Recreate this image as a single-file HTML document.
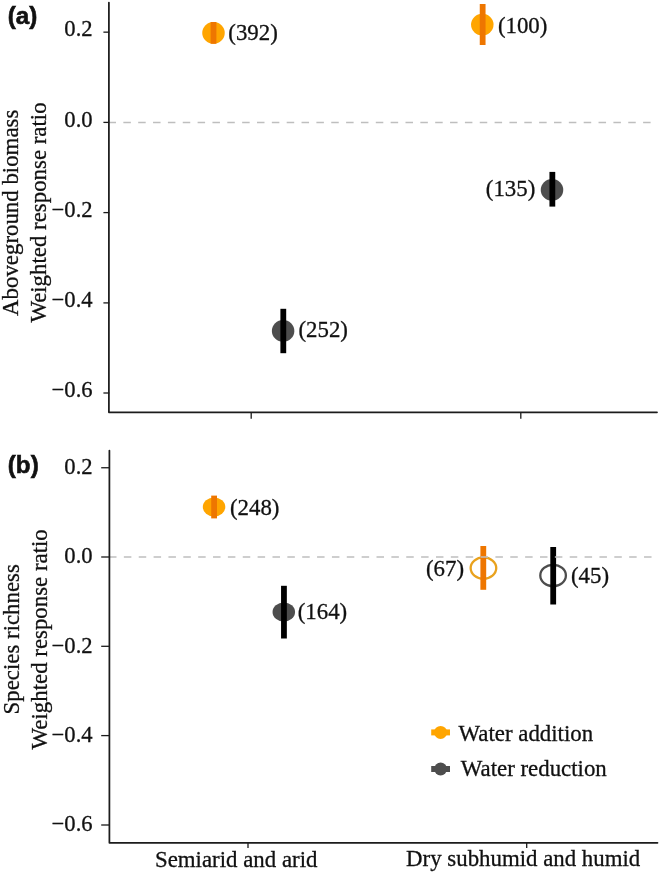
<!DOCTYPE html>
<html><head><meta charset="utf-8"><title>Figure</title>
<style>
html,body{margin:0;padding:0;background:#fff;}
svg{display:block;}
text{font-family:"Liberation Serif","Times New Roman",serif;font-size:22.85px;fill:#111;stroke:#111;stroke-width:0.3px;}
.b{font-family:"Liberation Sans",Arial,sans-serif;font-weight:bold;font-size:24.2px;fill:#111;stroke:#111;stroke-width:0.6px;}
.ax{stroke:#1c1c1c;stroke-width:1.75;stroke-linejoin:round;stroke-linecap:round;fill:none;}
.tk{stroke:#1a1a1a;stroke-width:1.3;fill:none;}
.dash{stroke:#bebebe;stroke-width:1.5;stroke-dasharray:7.5 7.376;fill:none;}
</style></head><body>
<svg width="660" height="872" viewBox="0 0 660 872">
<rect width="660" height="872" fill="#fff"/>
<line class="tk" x1="103.4" y1="32.15" x2="109.3" y2="32.15"/>
<line class="tk" x1="103.4" y1="122.4" x2="109.3" y2="122.4"/>
<line class="tk" x1="103.4" y1="212.6" x2="109.3" y2="212.6"/>
<line class="tk" x1="103.4" y1="302.9" x2="109.3" y2="302.9"/>
<line class="tk" x1="103.4" y1="393" x2="109.3" y2="393"/>
<line class="tk" x1="101.2" y1="467.75" x2="109.3" y2="467.75"/>
<line class="tk" x1="101.2" y1="557.0" x2="109.3" y2="557.0"/>
<line class="tk" x1="101.2" y1="646.3" x2="109.3" y2="646.3"/>
<line class="tk" x1="101.2" y1="735.6" x2="109.3" y2="735.6"/>
<line class="tk" x1="101.2" y1="825.0" x2="109.3" y2="825.0"/>
<line class="tk" x1="251.2" y1="412.3" x2="251.2" y2="418.8"/>
<line class="tk" x1="520.8" y1="412.3" x2="520.8" y2="418.8"/>
<line class="tk" x1="248" y1="842.8" x2="248" y2="848.1"/>
<line class="tk" x1="526.7" y1="842.8" x2="526.7" y2="848.1"/>
<text x="92.6" y="36.45" text-anchor="end" style="font-size:22.6px">0.2</text>
<text x="92.6" y="126.70" text-anchor="end" style="font-size:22.6px">0.0</text>
<text x="92.6" y="216.90" text-anchor="end" style="font-size:22.6px">−0.2</text>
<text x="92.6" y="307.20" text-anchor="end" style="font-size:22.6px">−0.4</text>
<text x="92.6" y="397.30" text-anchor="end" style="font-size:22.6px">−0.6</text>
<text x="92.6" y="474.15" text-anchor="end" style="font-size:22.6px">0.2</text>
<text x="92.6" y="563.40" text-anchor="end" style="font-size:22.6px">0.0</text>
<text x="92.6" y="652.70" text-anchor="end" style="font-size:22.6px">−0.2</text>
<text x="92.6" y="742.00" text-anchor="end" style="font-size:22.6px">−0.4</text>
<text x="92.6" y="831.40" text-anchor="end" style="font-size:22.6px">−0.6</text>
<text class="b" x="7.8" y="23.6">(a)</text>
<text class="b" x="7.8" y="473">(b)</text>
<text transform="translate(18.3,212.8) rotate(-90)" text-anchor="middle">Aboveground biomass</text>
<text transform="translate(45.7,212.5) rotate(-90)" text-anchor="middle">Weighted response ratio</text>
<text transform="translate(19.4,639.3) rotate(-90)" text-anchor="middle">Species richness</text>
<text transform="translate(46.9,639.3) rotate(-90)" text-anchor="middle">Weighted response ratio</text>
<text x="155" y="866.8">Semiarid and arid</text>
<text x="406.1" y="865.6">Dry subhumid and humid</text>
<ellipse cx="213.5" cy="32.9" rx="11.25" ry="10.9" fill="#ffa500"/><line x1="213.5" y1="22" x2="213.5" y2="43.8" stroke="#ee7600" stroke-width="5.8"/>
<ellipse cx="482.3" cy="24.6" rx="11.25" ry="10.9" fill="#ffa500"/><line x1="482.65" y1="4" x2="482.65" y2="45" stroke="#ee7600" stroke-width="5.8"/>
<ellipse cx="552" cy="189.9" rx="11.25" ry="10.9" fill="#4d4d4d"/><line x1="552.35" y1="171.9" x2="552.35" y2="206.6" stroke="#000" stroke-width="5.8"/>
<ellipse cx="283.1" cy="330.9" rx="11.25" ry="10.9" fill="#4d4d4d"/><line x1="283.3" y1="308.8" x2="283.3" y2="353.2" stroke="#000" stroke-width="5.8"/>
<ellipse cx="214.05" cy="507" rx="11.25" ry="9.5" fill="#ffa500"/><line x1="214.1" y1="495.6" x2="214.1" y2="518.4" stroke="#ee7600" stroke-width="5.8"/>
<ellipse cx="283.8" cy="612" rx="11.25" ry="9.5" fill="#4d4d4d"/><line x1="283.95" y1="585.8" x2="283.95" y2="638.5" stroke="#000" stroke-width="5.8"/>
<ellipse cx="483.45" cy="568.1" rx="12.8" ry="10.7" fill="none" stroke="#e9a21e" stroke-width="2.3"/><line x1="483.3" y1="546" x2="483.3" y2="589.8" stroke="#ee7600" stroke-width="5.8"/>
<ellipse cx="553.1" cy="575.5" rx="12.8" ry="10.7" fill="none" stroke="#4d4d4d" stroke-width="2.3"/><line x1="553.2" y1="547" x2="553.2" y2="604.5" stroke="#000" stroke-width="5.8"/>
<line class="dash" x1="108.5" y1="122.4" x2="652" y2="122.4" style="stroke-dasharray:7.5 7.35"/>
<line class="dash" x1="109.0" y1="557.0" x2="652" y2="557.0" style="stroke-dasharray:7.5 7.362"/>
<path class="ax" d="M108.9 2.6V412.3H657"/>
<path class="ax" d="M109.4 450.6V842.8H657.5"/>
<text x="228.3" y="39.5" text-anchor="start">(392)</text>
<text x="497.9" y="33.2" text-anchor="start">(100)</text>
<text x="535.3" y="195.6" text-anchor="end">(135)</text>
<text x="298.5" y="337.1" text-anchor="start">(252)</text>
<text x="230" y="514.5" text-anchor="start">(248)</text>
<text x="297.7" y="619" text-anchor="start">(164)</text>
<text x="464" y="575.5" text-anchor="end">(67)</text>
<text x="571" y="582.8" text-anchor="start">(45)</text>
<line x1="431.2" y1="732.4" x2="450" y2="732.4" stroke="#ffa500" stroke-width="6"/><circle cx="440.6" cy="732.4" r="6.5" fill="#ffa500"/>
<line x1="431.2" y1="769" x2="450" y2="769" stroke="#4d4d4d" stroke-width="6"/><circle cx="440.6" cy="769" r="6.5" fill="#4d4d4d"/>
<text x="458.6" y="740.8" text-anchor="start">Water addition</text>
<text x="460.8" y="775.8" text-anchor="start">Water reduction</text>
</svg></body></html>
